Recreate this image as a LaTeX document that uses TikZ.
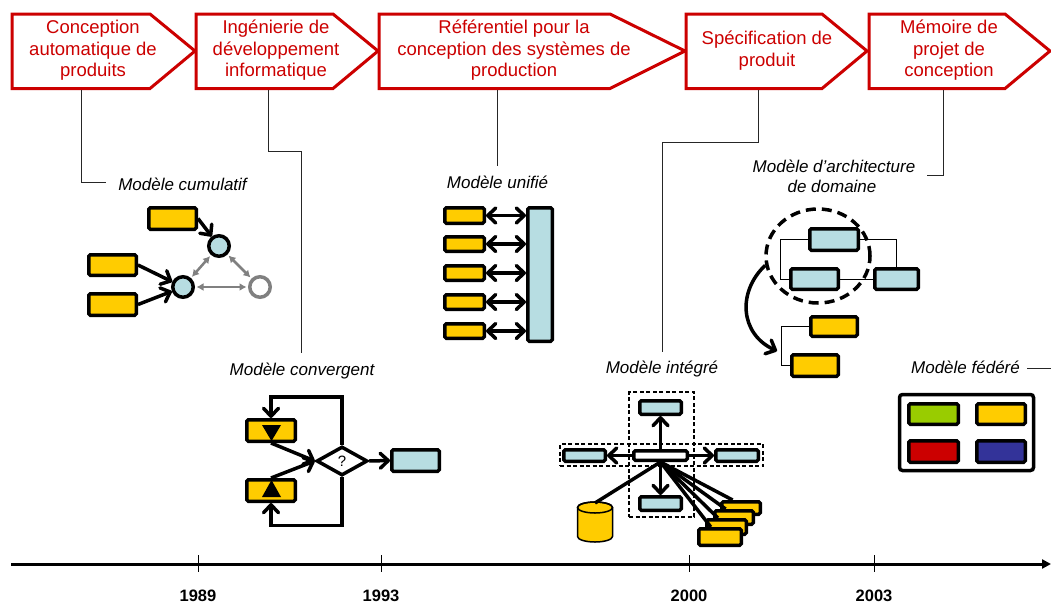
\documentclass[tikz,border=0pt]{standalone}
\usepackage{fontspec}
\setmainfont{Liberation Sans}
\usetikzlibrary{arrows.meta,shapes.geometric,calc}
\definecolor{bannerred}{RGB}{204,0,0}
\definecolor{amber}{RGB}{255,204,0}
\definecolor{paleblue}{RGB}{183,221,226}
\definecolor{leaf}{RGB}{153,204,0}
\definecolor{brick}{RGB}{204,0,0}
\definecolor{navy}{RGB}{51,51,153}
\definecolor{midgray}{RGB}{128,128,128}
\tikzset{
  banner/.style={draw=bannerred, line width=3pt, fill=white},
  bannertext/.style={text=bannerred, font=\fontsize{18.5}{21.5}\selectfont, align=center, inner sep=0pt},
  modellabel/.style={font=\fontsize{17}{21}\selectfont\itshape, inner sep=0pt, anchor=base},
  leader/.style={draw=black!85, line width=1pt},
  boxbase/.style={draw=black, line width=3.5pt, rounded corners=1.5pt, inner sep=0pt},
  ybox/.style={boxbase, fill=amber},
  bbox/.style={boxbase, fill=paleblue},
  wbox/.style={boxbase, fill=white},
  dot/.style={circle, draw=black, line width=3.5pt, inner sep=0pt, minimum size=20.5pt},
  thinlink/.style={draw=black, line width=1pt},
  barbarrow/.style={draw=black, line width=3.5pt, -{Straight Barb[length=8pt,width=15pt,round]}},
  dblbarb/.style={draw=black, line width=3.5pt, {Straight Barb[length=8pt,width=15pt,round]}-{Straight Barb[length=8pt,width=15pt,round]}},
  grayarrow/.style={draw=midgray, line width=2.5pt, {Latex[length=7pt,width=8pt]}-{Latex[length=7pt,width=8pt]}, shorten <=1.5pt, shorten >=1.5pt},
  dashframe/.style={draw=black, line width=2.5pt, dash pattern=on 4pt off 2.5pt, inner sep=0pt},
  yearlabel/.style={font=\fontsize{16.5}{18}\selectfont\bfseries, anchor=base, inner sep=0pt},
  tick/.style={draw=black, line width=1pt},
}
% style, name, x1, y1, x2, y2 (outer edges of the border)
\newcommand\placebox[6]{%
  \node[#1, minimum width={#5-#3-3.5}, minimum height={#6-#4-3.5}] (#2) at ({(#3+#5)/2},{(#4+#6)/2}) {};}

\begin{document}
\begin{tikzpicture}[x=1pt,y=-1pt]
\useasboundingbox (0,0) rectangle (1051,605);
\fill[white] (0,0) rectangle (1051,605);

% ---------- phase banners ----------
\draw[banner] (12,14) -- (150,14) -- (195,51) -- (150,88.5) -- (12,88.5) -- cycle;
\draw[banner] (196,14) -- (333,14) -- (378,51) -- (333,88.5) -- (196,88.5) -- cycle;
\draw[banner] (379,14) -- (610,14) -- (685,51) -- (610,88.5) -- (379,88.5) -- cycle;
\draw[banner] (686,14) -- (822,14) -- (867,51) -- (822,88.5) -- (686,88.5) -- cycle;
\draw[banner] (869,14) -- (1005,14) -- (1050,51) -- (1005,88.5) -- (869,88.5) -- cycle;

\node[bannertext] (t1) at (93,50.5) {Conception\\automatique de\\produits};
\node[bannertext] (t2) at (276,50.5) {Ingénierie de\\développement\\informatique};
\node[bannertext] (t3) at (514,50.5) {Référentiel pour la\\conception des systèmes de\\production};
\node[bannertext] (t4) at (767,50.5) {Spécification de\\produit};
\node[bannertext] (t5) at (949,50.5) {Mémoire de\\projet de\\conception};

\coordinate (t1foot) at (81,90);
\coordinate (t2foot) at (268,90);
\coordinate (t3foot) at (497,90);
\coordinate (t4foot) at (758,90);
\coordinate (t5foot) at (943,90);

% ---------- model labels ----------
\node[modellabel] (cum)   at (182.5,190) {Modèle cumulatif};
\node[modellabel] (conv)  at (302,375) {Modèle convergent};
\node[modellabel] (uni)   at (497.5,188) {Modèle unifié};
\node[modellabel] (integ) at (662,373) {Modèle intégré};
\node[modellabel] (archA) at (834,172) {Modèle d’architecture};
\node[modellabel] (archB) at (832,192) {de domaine};
\node[modellabel] (fed)   at (965.5,373) {Modèle fédéré};

% ---------- leaders from banners to labels ----------
\draw[leader] (t1foot) |- ($(cum.west)+(-12,-1)$);
\draw[leader] (t2foot) -- (268,151) -| ($(conv.north)+(-1,-9)$);
\draw[leader] (t3foot) -- ($(t3foot |- uni.north)+(0,-9)$);
\draw[leader] (t4foot) -- (758,142) -| ($(integ.north)+(0,-8)$);
\draw[leader] (t5foot) |- ($(archA.base east)+(12,3)$);
\coordinate (fedtail) at (1051,368);
\draw[leader] ($(fed.base east)+(7,-5)$) -- (fedtail);

% ---------- cumulative model ----------
\placebox{ybox}{c1}{147}{206}{198}{231}
\placebox{ybox}{c2}{87}{253}{138}{277}
\placebox{ybox}{c3}{87}{292}{138}{317}
\node[dot, fill=paleblue] (k1) at (219,246) {};
\node[dot, fill=paleblue] (k2) at (183,287) {};
\node[dot, draw=midgray, fill=white] (k3) at (260,287) {};
\draw[barbarrow] (c1.east) -- (k1);
\draw[barbarrow] (c2.east) -- (k2);
\draw[barbarrow] (c3.east) -- (k2);
\draw[grayarrow] (k1) -- (k2);
\draw[grayarrow] (k1) -- (k3);
\draw[grayarrow] (k2) -- (k3);

% ---------- unified model ----------
\placebox{bbox}{U}{526}{206}{554}{343}
\placebox{ybox}{u1}{443}{206}{486}{225}
\placebox{ybox}{u2}{443}{235}{486}{253}
\placebox{ybox}{u3}{443}{264}{486}{282}
\placebox{ybox}{u4}{443}{293}{486}{311}
\placebox{ybox}{u5}{443}{322}{486}{340}
\foreach \u in {u1,u2,u3,u4,u5}
  \draw[dblbarb] (\u.east) -- (U.west |- \u.east);

% ---------- domain architecture model ----------
\node[ellipse, draw=black, line width=3.5pt, dash pattern=on 10pt off 6pt,
      minimum width=104pt, minimum height=94pt, inner sep=0pt] (dom) at (818,256) {};
\placebox{bbox}{a1}{808}{227}{860}{252}
\placebox{bbox}{a2}{789}{267}{840}{291}
\placebox{bbox}{a3}{873}{267}{920}{291}
\placebox{ybox}{a4}{809}{315}{859}{338}
\placebox{ybox}{a5}{790}{353}{840}{378}
\draw[thinlink] (a1.west) -- ++(-28,0) |- (a2.west);
\draw[thinlink] (a1.east) -| (a3.north);
\draw[thinlink] (a2.east) -- (a3.west);
\draw[thinlink] (a4.west) -- ++(-28,0) |- (a5.west);
\coordinate (archtip) at (777,351);
\draw[barbarrow] (dom.190) .. controls (737,292) and (740,334) .. (archtip);

% ---------- convergent model ----------
\placebox{ybox}{q1}{245}{418}{297}{443}
\placebox{ybox}{q2}{245}{478}{297}{503}
\placebox{bbox}{q3}{390}{448}{441}{473}
\node[diamond, draw=black, line width=3.5pt, fill=white, inner sep=0pt,
      minimum width=51pt, minimum height=29pt, font=\fontsize{15}{16}\selectfont] (D) at (342,461) {?};
\fill (262,425) -- (281,425) -- (271.5,441) -- cycle;
\fill (262,497) -- (281,497) -- (271.5,480) -- cycle;
\draw[barbarrow] (D.north) |- ($(q1.north)+(0,-21)$) -- (q1.north);
\draw[barbarrow] (D.south) |- ($(q2.south)+(0,22.5)$) -- (q2.south);
\draw[barbarrow] (q1.south) -- (D.west);
\draw[barbarrow] (q2.north) -- (D.west);
\draw[barbarrow] (D.east) -- (q3.west);

% ---------- integrated model ----------
\node[dashframe, minimum width=65pt, minimum height=125pt] (vframe) at (661.5,454.5) {};
\node[dashframe, minimum width=203pt, minimum height=22pt] (hframe) at (661.5,455) {};
\placebox{wbox}{i0}{632}{449}{689}{462}
\placebox{bbox}{iT}{638}{399}{683}{416}
\placebox{bbox}{iB}{638}{495}{683}{512}
\placebox{bbox}{iL}{562}{448}{607}{463}
\placebox{bbox}{iR}{714}{448}{760}{463}
\draw[barbarrow] (i0.north) -- (iT.south);
\draw[barbarrow] (i0.south) -- (iB.north);
\draw[barbarrow] (i0.west) -- (iL.east);
\draw[barbarrow] (i0.east) -- (iR.west);
% data store
\draw[line width=1.5pt, fill=amber] (577.5,507.5) -- (577.5,536.5)
  arc[start angle=180, end angle=0, x radius=17.5, y radius=5.5] -- (612.5,507.5)
  arc[start angle=0, end angle=-180, x radius=17.5, y radius=5.5] -- cycle;
\draw[line width=1.5pt] (595,507.5) ellipse [x radius=17.5, y radius=5.5];
\coordinate (dbtop) at (595,503);
\draw[line width=3.5pt] (dbtop) -- (i0.south);
% stacked sources
\placebox{ybox}{s1}{720}{500}{762}{516}
\placebox{ybox}{s2}{713}{509}{755}{526}
\placebox{ybox}{s3}{705}{518}{748}{536}
\placebox{ybox}{s4}{697}{527}{743}{547}
\foreach \s in {s1,s2,s3,s4}
  \draw[line width=3.5pt] (i0.south) -- ($(\s.north west)!0.3!(\s.north east)$);

% ---------- federated model ----------
\node[boxbase, fill=white, rounded corners=3pt, minimum width=134pt, minimum height=76pt] (F) at (966.5,432.5) {};
\placebox{boxbase, fill=leaf}{f1}{907}{402}{960}{426}
\placebox{ybox}{f2}{975}{402}{1027}{426}
\placebox{boxbase, fill=brick}{f3}{907}{439}{960}{464}
\placebox{boxbase, fill=navy}{f4}{975}{439}{1027}{464}

% ---------- time axis ----------
\coordinate (axstart) at (11,564);
\coordinate (axend) at (1051,564);
\draw[line width=3pt, -{Triangle[length=9pt,width=9pt]}] (axstart) -- (axend);
\node[yearlabel] (y89) at (198,601.5) {1989};
\node[yearlabel] (y93) at (381,601.5) {1993};
\node[yearlabel] (y00) at (689,601.5) {2000};
\node[yearlabel] (y03) at (874,601.5) {2003};
\foreach \y in {y89,y93,y00,y03}
  \draw[tick] ($(\y.base)+(0,-46.5)$) -- ($(\y.base)+(0,-29.5)$);
\end{tikzpicture}
\end{document}
